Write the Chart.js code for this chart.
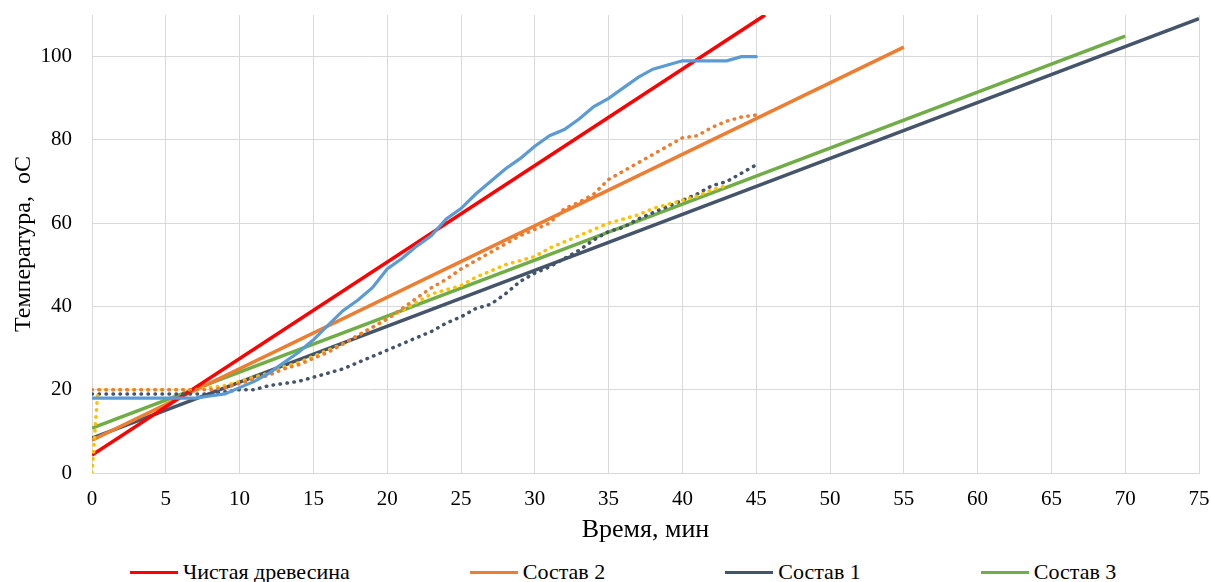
<!DOCTYPE html>
<html lang="ru">
<head>
<meta charset="utf-8">
<title>Температура</title>
<script src="https://cdn.jsdelivr.net/npm/chart.js@4.4.1/dist/chart.umd.min.js"></script>
<style>
  html, body { margin: 0; padding: 0; background: #ffffff; }
  #wrap { position: relative; width: 1211px; height: 582px; }
  #legend {
    position: absolute; left: 130px; top: 559px;
    display: flex; align-items: center; gap: 120px;
    font: 22px "Times New Roman", "Liberation Serif", serif; color: #000000;
    line-height: 26px; white-space: nowrap;
  }
  .item { display: flex; align-items: center; }
  .swatch { width: 48px; height: 3px; margin-right: 5px; }
</style>
</head>
<body>
<div id="wrap">
  <canvas id="chart" width="1211" height="555"></canvas>
  <div id="legend"></div>
</div>
<script>
// measured curves, one reading per minute
const measTime = [0, 1, 2, 3, 4, 5, 6, 7, 8, 9, 10, 11, 12, 13, 14, 15, 16, 17, 18, 19, 20, 21, 22, 23,
  24, 25, 26, 27, 28, 29, 30, 31, 32, 33, 34, 35, 36, 37, 38, 39, 40, 41, 42, 43, 44, 45];
const woodMeasured = [18, 18, 18, 18, 18, 18, 18, 18, 18.5, 19, 20.5, 22, 24, 26.5, 29, 32, 35.5, 39, 41.5, 44.5,
  49, 51.5, 54.5, 57, 61, 63.5, 67, 70, 73, 75.5, 78.5, 81, 82.5, 85, 88, 90, 92.5, 95, 97, 98, 99, 99, 99, 99, 100, 100];
const mix2Measured = [20, 20, 20, 20, 20, 20, 20, 20, 20, 20.5, 21.5, 22.5, 23.5, 25, 26, 27.5, 29, 31, 33, 35,
  37, 39.5, 42, 44.5, 46.5, 49, 51, 53, 55, 57, 58.5, 60, 63.5, 65, 67, 70.5, 72.5, 74.5, 76.5, 78.5, 80.5, 81, 83, 84.5, 85.5, 86];
const mix1Measured = [19, 19, 19, 19, 19, 19, 19, 19, 19, 19.5, 20, 20, 21, 21.5, 22, 23, 24, 25, 26.5, 28,
  29.5, 31, 32.5, 34, 36, 37.5, 39.5, 40.5, 43, 46, 48, 49.5, 51.5, 53.5, 56, 58, 59, 61, 62.5, 64, 65.5, 67, 69, 70, 72, 74];
const mix3Time = [0, 0.4, 1, 2, 3, 4, 5, 6, 7, 8, 9, 10, 11, 12, 13, 14, 15, 16, 17, 18, 19, 20, 21, 22, 23,
  24, 25, 26, 27, 28, 29, 30, 31, 32, 33, 34, 35, 36, 37, 38, 39, 40, 41, 42, 43];
const mix3Measured = [0, 20, 20, 20, 20, 20, 20, 20, 20, 20.5, 21, 22, 23, 24, 25.5, 26.5, 28, 29.5, 31, 33, 35,
  37, 39, 41, 43, 44, 45, 47, 48.5, 50, 51, 52, 54, 55.5, 57, 58.5, 60, 61, 62, 63.5, 64.5, 65.5, 66.5, 68, 69];

// linear trends (end points)
const woodTrendX = [0, 45.6];
const woodTrendY = [4.3, 110];
const mix2TrendX = [0, 55];
const mix2TrendY = [7.9, 102.3];
const mix1TrendX = [0, 75];
const mix1TrendY = [8.4, 109.1];
const mix3TrendX = [0, 70];
const mix3TrendY = [10.8, 104.9];

const xTickMax = 75;
const yTickMax = 110;

const serif = '"Times New Roman", "Liberation Serif", serif';
const gridColor = "#d9d9d9";

function toPoints(xs, ys) {
  return xs.map((x, i) => ({ x, y: ys[i] }));
}

function measured(data, color, dotted) {
  return {
    label: "",
    data,
    borderColor: color,
    backgroundColor: color,
    borderWidth: dotted ? 3.5 : 3.2,
    borderDash: dotted ? [0.5, 6.5] : [],
    borderCapStyle: "round",
    pointRadius: 0,
    tension: 0,
    inLegend: false
  };
}

function trend(label, data, color) {
  return {
    label,
    data,
    borderColor: color,
    backgroundColor: color,
    borderWidth: 3.5,
    pointRadius: 0,
    tension: 0,
    inLegend: true
  };
}

const datasets = [
  measured(toPoints(measTime, woodMeasured), "#5b9bd5", false),
  measured(toPoints(measTime, mix2Measured), "#ed7d31", true),
  measured(toPoints(mix3Time, mix3Measured), "#ffc000", true),
  measured(toPoints(measTime, mix1Measured), "#44546a", true),
  trend("Чистая древесина", toPoints(woodTrendX, woodTrendY), "#ff0000"),
  trend("Состав 2", toPoints(mix2TrendX, mix2TrendY), "#ed7d31"),
  trend("Состав 1", toPoints(mix1TrendX, mix1TrendY), "#44546a"),
  trend("Состав 3", toPoints(mix3TrendX, mix3TrendY), "#70ad47")
];

const chart = new Chart(document.getElementById("chart").getContext("2d"), {
  type: "line",
  data: { datasets },
  options: {
    responsive: false,
    animation: false,
    layout: { padding: { left: 0, right: 12, top: 15, bottom: 0 } },
    scales: {
      x: {
        type: "linear",
        min: 0,
        max: xTickMax,
        afterFit: (scale) => {
          scale.height = 82;
          scale.paddingLeft = 0;
          scale.paddingRight = 0;
        },
        ticks: { stepSize: 5, padding: 14, color: "#000000", font: { family: serif, size: 21 } },
        grid: { color: gridColor, lineWidth: 1, drawTicks: false },
        border: { color: gridColor, width: 1 },
        title: {
          display: true,
          text: "Время, мин",
          color: "#000000",
          font: { family: serif, size: 26 },
          padding: { top: 0, bottom: 9 }
        }
      },
      y: {
        min: 0,
        max: yTickMax,
        afterFit: (scale) => {
          scale.width = 92;
          scale.paddingTop = 0;
          scale.paddingBottom = 0;
        },
        ticks: { stepSize: 20, includeBounds: false, padding: 20, color: "#000000", font: { family: serif, size: 21 } },
        grid: { color: gridColor, lineWidth: 1, drawTicks: false },
        border: { color: gridColor, width: 1 },
        title: {
          display: true,
          text: "Температура,  оС",
          color: "#000000",
          font: { family: serif, size: 24 },
          padding: { top: 9, bottom: 0 }
        }
      }
    },
    plugins: {
      legend: { display: false },
      tooltip: { enabled: false }
    }
  }
});

// html legend, trend lines only
const legendBox = document.getElementById("legend");
chart.data.datasets.filter((ds) => ds.inLegend).forEach((ds) => {
  const item = document.createElement("div");
  item.className = "item";
  const swatch = document.createElement("span");
  swatch.className = "swatch";
  swatch.style.background = ds.borderColor;
  const text = document.createElement("span");
  text.textContent = ds.label;
  item.appendChild(swatch);
  item.appendChild(text);
  legendBox.appendChild(item);
});
</script>
</body>
</html>
